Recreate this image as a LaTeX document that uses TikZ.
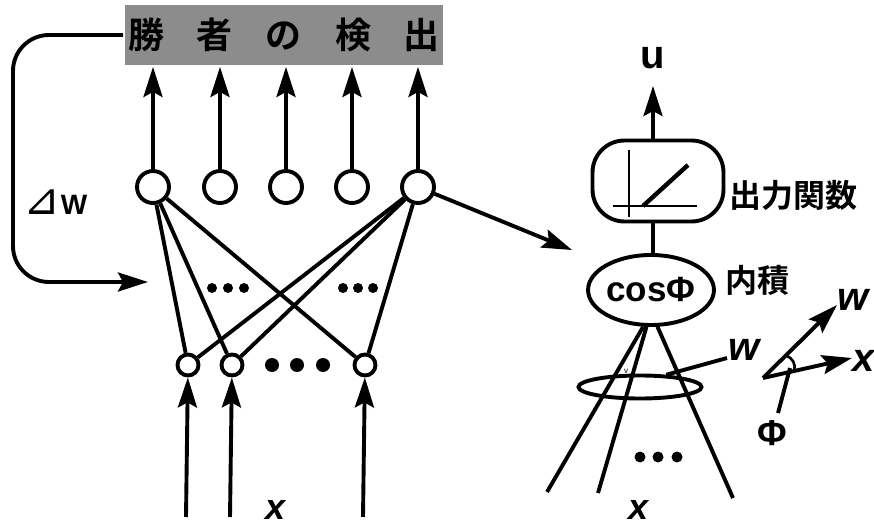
\documentclass[tikz,border=0pt]{standalone}
\usepackage{fontspec}
\usetikzlibrary{arrows.meta,shapes.geometric}
\newfontfamily\cjk{Noto Sans CJK JP Bold}
\newfontfamily\hv{Liberation Sans}
\newfontfamily\dv{DejaVu Sans}
\tikzset{
  arr/.style={-{Stealth[length=30pt,width=19pt,inset=5pt]}},
  neuron/.style={circle,draw,minimum size=32pt,inner sep=0pt},
  inp/.style={circle,draw,minimum size=21pt,inner sep=0pt},
  jlabel/.style={font=\cjk\fontsize{32}{32}\selectfont,inner sep=0pt},
  vlabel/.style={font=\hv\bfseries\itshape\fontsize{40}{40}\selectfont,inner sep=0pt},
  blabel/.style={font=\hv\bfseries\itshape\fontsize{36}{36}\selectfont,inner sep=0pt},
}
\begin{document}
\begin{tikzpicture}[x=1pt,y=-1pt,line width=3.9pt]
\useasboundingbox (0,0) rectangle (874,529);
% top detector box
\node[fill=black!45, minimum width=318pt, minimum height=60pt, inner sep=0pt,
      font=\cjk\fontsize{36}{36}\selectfont] (det) at (284,35)
  {勝\hspace{33pt}者\hspace{33pt}の\hspace{33pt}検\hspace{33pt}出};
% top layer neurons
\foreach \i/\x in {1/153,2/220,3/286,4/352,5/418}{
  \node[neuron] (t\i) at (\x,187) {};
  \draw[arr] (t\i) -- (t\i |- det.south);
}
% input layer
\foreach \i/\x in {1/188,2/232,3/365}{
  \node[inp] (b\i) at (\x,365) {};
  \coordinate (i\i) at (\x-2,517);
  \draw[arr] (i\i) -- (b\i);
}
\foreach \x in {272,297,323}{\fill (\x,365) circle (7pt);}
\foreach \x in {212,228,244,343,358,373}{\fill (\x,288) circle (5pt);}
% connections
\foreach \j in {1,2,3}{
  \draw (t1) -- (b\j);
  \draw (t5) -- (b\j);
}
\node[blabel] (xin) at (276,510) {x};
% feedback
\coordinate (fbtip) at (148,282);
\draw[arr, rounded corners=36pt] (det.west) -- (13,35) -- (13,282) -- (fbtip);
\node[inner sep=0pt, anchor=west] (dw) at (22,202)
  {{\dv\fontsize{44}{44}\selectfont ⊿}{\hv\bfseries\fontsize{28}{28}\selectfont W}};
% arrow to the single unit
\coordinate (rtip) at (572,250);
\draw[arr] (t5) -- (rtip);
% output function box
\node[draw, rounded corners=32pt, minimum width=131pt, minimum height=81pt] (fbox) at (658,181) {};
\draw[line width=2.6pt] (629,150) -- (629,217);
\draw[line width=2.6pt] (613,206) -- (697,206);
\draw[line width=4.4pt] (643,206) -- (688,165);
\coordinate (utip) at (653,86);
\node[font=\hv\bfseries\fontsize{40}{40}\selectfont, inner sep=0pt] (u) at (653,58) {u};
\draw[arr] (fbox.north -| utip) -- (utip);
\node[jlabel, anchor=west] (fl) at (728,195) {出力関数};
% inner product
\node[ellipse, draw, minimum width=120pt, minimum height=70pt, inner sep=0pt,
      font=\hv\bfseries\fontsize{35}{35}\selectfont] (cos) at (651,290) {cosΦ};
\draw (fbox.south -| utip) -- (cos.north -| utip);
\node[jlabel, anchor=west] (ip) at (724,280) {内積};
% cone of inputs
\coordinate (e1) at (547,492);
\coordinate (e2) at (598,493);
\coordinate (e3) at (733,498);
\draw (cos.-102) -- (e1);
\draw (cos.-97) -- (e2);
\draw (cos.-80) -- (e3);
\node[ellipse, draw, minimum width=123pt, minimum height=23pt, inner sep=0pt] (ring) at (640,387) {};
\coordinate (wend) at (727,358);
\draw (ring.25) -- (wend);
\node[vlabel, anchor=west] (wl) at (727,350) {w};
\node[font=\hv\fontsize{8}{8}\selectfont, inner sep=0pt] (vm) at (626,371) {v};
\foreach \x in {640,658,677}{\fill (\x,457) circle (5.5pt);}
\node[blabel] (xr) at (638,510) {x};
% vector diagram
\coordinate (o) at (763,378);
\coordinate (wt) at (837,305);
\coordinate (xt) at (852,358);
\draw[arr] (o) -- (wt);
\draw[arr] (o) -- (xt);
\draw[line width=2.6pt] (785.8,355.5) to[bend left=45] (794.2,371);
\coordinate (pp) at (790,368);
\coordinate (pq) at (778,413);
\draw (pp) -- (pq);
\node[vlabel, anchor=west] (wv) at (836,300) {w};
\node[vlabel, anchor=west] (xv) at (851,361) {x};
\node[font=\hv\bfseries\fontsize{36}{36}\selectfont, inner sep=0pt] (phi) at (772,433) {Φ};
\end{tikzpicture}
\end{document}
